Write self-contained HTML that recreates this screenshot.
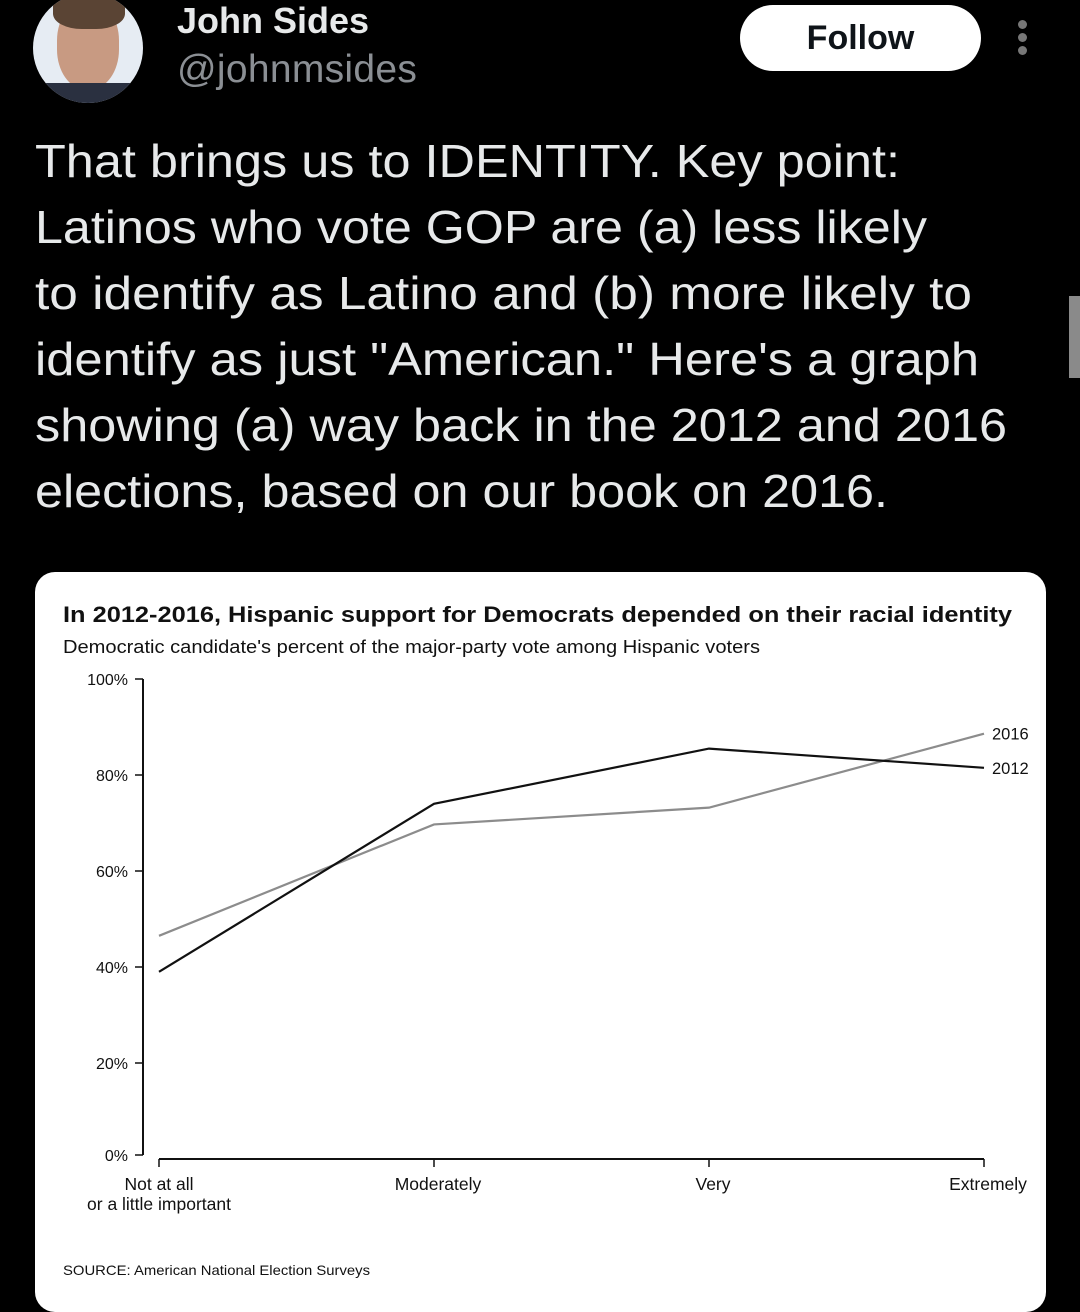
<!DOCTYPE html>
<html><head><meta charset="utf-8"><style>
body{margin:0;width:1080px;height:1289px;background:#000;overflow:hidden;position:relative;font-family:"Liberation Sans",sans-serif}
.abs{position:absolute}
</style></head><body>
<div class="abs" style="left:33px;top:-7px;width:110px;height:110px;border-radius:50%;background:#e6ecf3;overflow:hidden">
 <div style="position:absolute;left:24px;top:8px;width:62px;height:88px;border-radius:45%;background:#c89a82"></div>
 <div style="position:absolute;left:20px;top:-2px;width:72px;height:38px;border-radius:40%;background:#5a4434"></div>
 <div style="position:absolute;left:10px;top:90px;width:90px;height:30px;background:#2a3040"></div>
</div>
<div class="abs" style="left:177px;top:0;color:#e7e9ea;font-size:36px;font-weight:bold">John Sides</div>
<div class="abs" style="left:177px;top:48px;color:#8b8f94;font-size:39px;letter-spacing:0.3px">@johnmsides</div>
<div class="abs" style="left:740px;top:5px;width:241px;height:66px;border-radius:33px;background:#fff;color:#0f1419;font-size:34px;font-weight:bold;text-align:center;line-height:66px">Follow</div>
<div class="abs" style="left:1018px;top:20px;width:12px">
 <div style="width:9px;height:9px;border-radius:50%;background:#777;margin-bottom:4px"></div>
 <div style="width:9px;height:9px;border-radius:50%;background:#777;margin-bottom:4px"></div>
 <div style="width:9px;height:9px;border-radius:50%;background:#777"></div>
</div>
<div class="abs" style="left:1069px;top:296px;width:11px;height:82px;background:#8a8a8a"></div>
<svg class="abs" style="left:0;top:0" width="1080" height="560" font-family="Liberation Sans, sans-serif" font-size="46" fill="#e7e9ea">
<text x="35" y="177" textLength="865" lengthAdjust="spacingAndGlyphs">That brings us to IDENTITY. Key point:</text>
<text x="35" y="243" textLength="892" lengthAdjust="spacingAndGlyphs">Latinos who vote GOP are (a) less likely</text>
<text x="35" y="309" textLength="937" lengthAdjust="spacingAndGlyphs">to identify as Latino and (b) more likely to</text>
<text x="35" y="375" textLength="944" lengthAdjust="spacingAndGlyphs">identify as just "American." Here's a graph</text>
<text x="35" y="441" textLength="972" lengthAdjust="spacingAndGlyphs">showing (a) way back in the 2012 and 2016</text>
<text x="35" y="507" textLength="853" lengthAdjust="spacingAndGlyphs">elections, based on our book on 2016.</text>
</svg>
<div class="abs" style="left:35px;top:572px;width:1011px;height:740px;border-radius:20px;background:#fff"></div>
<svg class="abs" style="left:0;top:0" width="1080" height="1289" id="chart" font-family="Liberation Sans, sans-serif">
<text x="63" y="622" font-size="22" font-weight="bold" fill="#111" textLength="949" lengthAdjust="spacingAndGlyphs">In 2012-2016, Hispanic support for Democrats depended on their racial identity</text>
<text x="63" y="653" font-size="18" fill="#111" textLength="697" lengthAdjust="spacingAndGlyphs">Democratic candidate's percent of the major-party vote among Hispanic voters</text>
<text x="63" y="1275" font-size="14" fill="#111" textLength="307" lengthAdjust="spacingAndGlyphs">SOURCE: American National Election Surveys</text>
<g id="axes"></g><g id="lines"></g>
</svg>
<script>
const categories=["Not at all|or a little important","Moderately","Very","Extremely"];
const series2012=[39,74,85.5,81.5];
const series2016=[46.5,69.7,73.2,88.6];
const yTicks=[0,20,40,60,80,100];
const yLabels=["0%","20%","40%","60%","80%","100%"];
const NS="http://www.w3.org/2000/svg";
const X0=159,X1=984,Y0=1159,Y1=679;
function xs(i){return X0+(X1-X0)*i/(categories.length-1);}
function ys(v){return Y0-(Y0-Y1)*v/100;}
function mk(tag,attrs,parent){const e=document.createElementNS(NS,tag);for(const k in attrs)e.setAttribute(k,attrs[k]);parent.appendChild(e);return e;}
const ax=document.getElementById('axes'),ln=document.getElementById('lines');
let yl=mk('line',{x1:143,x2:143,y1:ys(100),y2:ys(0)-4,stroke:'#111','stroke-width':2},ax);


yTicks.forEach((t,i)=>{
 const yy=ys(t)-(t===0?4:0);
 const tk=mk('line',{x1:135,x2:143,y1:yy,y2:yy,stroke:'#111','stroke-width':1.5},ax);
 
 
 const tx=mk('text',{x:128,y:yy+6,'font-size':16,'text-anchor':'end',fill:'#111'},ax);
 tx.textContent=yLabels[i];
 
 
});
let xl=mk('line',{x1:xs(0),x2:xs(categories.length-1),y1:Y0,y2:Y0,stroke:'#111','stroke-width':2},ax);


categories.forEach((c,i)=>{
 const tk=mk('line',{x1:xs(i),x2:xs(i),y1:Y0,y2:Y0+8,stroke:'#111','stroke-width':1.5},ax);
 
 
 c.split('|').forEach((part,j)=>{
  const tx=mk('text',{x:xs(i)+(i===0?0:4),y:Y0+31+j*20,'font-size':17.5,'text-anchor':'middle',fill:'#111'},ax);
  tx.textContent=part;
  
  
 });
});
function drawSeries(vals,color,name,label){
 const p=mk('polyline',{points:vals.map((v,i)=>xs(i)+','+ys(v)).join(' '),fill:'none',stroke:color,'stroke-width':2.2},ln);
 
 
 const lx=xs(vals.length-1),lyv=ys(vals[vals.length-1]);
 const t=mk('text',{x:lx+8,y:lyv+6,'font-size':16.5,fill:'#111'},ln);
 t.textContent=label;
 
 
}
drawSeries(series2016,'#8c8c8c','line-2016','2016');
drawSeries(series2012,'#111','line-2012','2012');
</script>
</body></html>
